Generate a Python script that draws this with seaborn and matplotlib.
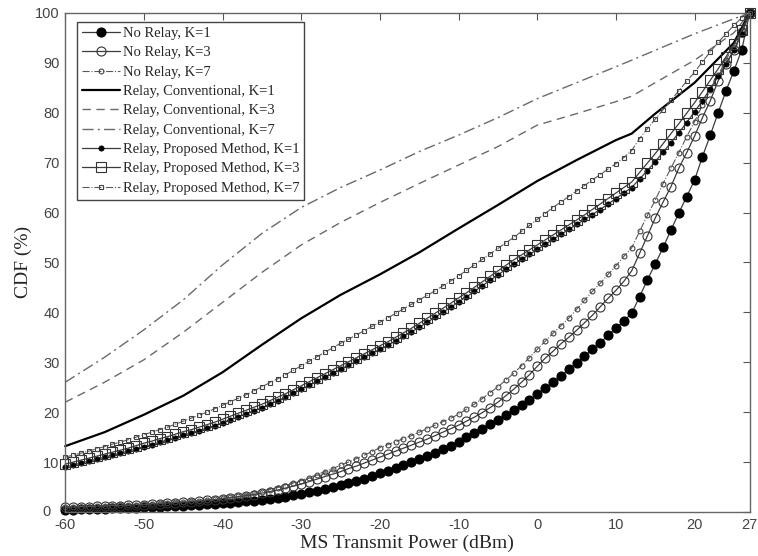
import numpy as np
import pandas as pd
import matplotlib
matplotlib.use("Agg")
import matplotlib.pyplot as plt
import seaborn as sns

# ---------------- data ----------------
x_fine = list(range(-60, 28))  # 1 dB grid for marker series
x_coarse = [-60, -55, -50, -45, -40, -35, -30, -25, -20, -15, -10, -5, 0, 5, 10, 12, 15, 20, 25, 27]

no_relay_k1 = [0.5, 0.5, 0.6, 0.6, 0.7, 0.7, 0.8, 0.8, 0.9, 0.9, 1.0,
               1.1, 1.1, 1.2, 1.3, 1.3, 1.4, 1.5, 1.6, 1.7, 1.8,
               1.9, 2.0, 2.2, 2.3, 2.5, 2.7, 2.9, 3.1, 3.4, 3.7,
               4.0, 4.3, 4.6, 5.0, 5.4, 5.8, 6.2, 6.7, 7.2, 7.8,
               8.3, 8.8, 9.4, 10.0, 10.6, 11.2, 11.9, 12.6, 13.3, 14.1,
               15.0, 15.8, 16.7, 17.6, 18.5, 19.4, 20.4, 21.4, 22.5, 23.6,
               24.8, 26.0, 27.3, 28.6, 29.9, 31.2, 32.6, 33.9, 35.4, 36.8, 38.3, 39.8,
               43.1, 46.5, 49.7, 53.0, 56.5, 59.9, 63.2, 66.5, 71.2, 75.5, 80.0, 84.4, 88.4, 92.6, 100.0]

no_relay_k3 = [1.0, 1.0, 1.1, 1.1, 1.2, 1.2, 1.3, 1.3, 1.4, 1.5, 1.5,
               1.6, 1.7, 1.8, 1.9, 2.0, 2.1, 2.2, 2.4, 2.5, 2.7,
               2.9, 3.1, 3.3, 3.5, 3.8, 4.1, 4.4, 4.8, 5.2, 5.6,
               6.1, 6.6, 7.1, 7.6, 8.1, 8.7, 9.2, 9.8, 10.4, 11.0,
               11.6, 12.2, 12.8, 13.4, 14.0, 14.6, 15.3, 16.0, 16.7, 17.4,
               18.2, 19.0, 19.9, 20.9, 22.0, 23.3, 24.6, 26.0, 27.5, 29.2,
               30.8, 32.2, 33.7, 35.0, 36.4, 37.9, 39.4, 41.1, 42.8, 44.4, 46.2, 48.3,
               51.8, 55.3, 58.9, 62.1, 65.2, 68.9, 72.0, 75.3, 79.0, 82.4, 86.4, 89.8, 92.5, 96.2, 100.0]

no_relay_k7 = [1.0, 1.0, 1.1, 1.1, 1.2, 1.2, 1.3, 1.4, 1.4, 1.5, 1.6,
               1.7, 1.8, 1.9, 2.0, 2.1, 2.2, 2.3, 2.5, 2.6, 2.8,
               3.0, 3.2, 3.5, 3.8, 4.1, 4.5, 4.9, 5.3, 5.8, 6.3,
               6.9, 7.5, 8.1, 8.7, 9.4, 10.0, 10.7, 11.4, 12.1, 12.9,
               13.5, 14.1, 14.7, 15.3, 16.0, 16.7, 17.4, 18.1, 18.8, 19.6,
               20.6, 21.6, 22.7, 23.9, 25.1, 26.4, 27.8, 29.3, 30.9, 32.6,
               34.2, 35.8, 37.3, 38.8, 40.6, 42.4, 44.2, 45.8, 47.6, 49.3, 51.2, 52.9,
               56.2, 59.4, 62.5, 65.8, 68.9, 72.0, 75.2, 78.2, 81.5, 84.5, 87.5, 90.6, 93.5, 96.5, 100.0]

conv_k1 = [13.2, 16.0, 19.5, 23.3, 28.0, 33.5, 38.8, 43.5, 47.6, 52.0, 56.8, 61.5, 66.3, 70.5, 74.5, 75.8, 79.8, 86.0, 94.0, 100.0]
conv_k3 = [22.0, 26.0, 30.5, 36.0, 42.0, 48.0, 53.5, 58.0, 62.0, 65.8, 69.5, 73.2, 77.5, 79.8, 82.2, 83.3, 86.0, 90.5, 96.0, 100.0]
conv_k7 = [26.0, 31.0, 36.5, 42.5, 49.5, 55.8, 61.0, 65.0, 68.5, 72.2, 75.5, 79.0, 82.8, 86.0, 89.2, 90.5, 92.5, 95.8, 98.8, 100.0]

prop_k1 = [9.0, 9.4, 9.8, 10.2, 10.6, 11.0, 11.4, 11.8, 12.2, 12.6, 13.1,
           13.5, 14.0, 14.4, 14.9, 15.4, 15.8, 16.3, 16.8, 17.3, 17.9,
           18.5, 19.1, 19.7, 20.3, 20.9, 21.6, 22.3, 23.0, 23.8, 24.6,
           25.4, 26.2, 27.0, 27.8, 28.6, 29.4, 30.2, 31.0, 31.8, 32.6,
           33.4, 34.3, 35.2, 36.1, 37.0, 38.0, 39.0, 40.0, 41.0, 42.1,
           43.1, 44.2, 45.3, 46.4, 47.5, 48.6, 49.6, 50.6, 51.6, 52.6,
           53.6, 54.6, 55.6, 56.6, 57.6, 58.6, 59.6, 60.6, 61.7, 62.8, 63.9, 65.0,
           66.7, 68.4, 70.2, 72.1, 74.0, 76.0, 78.0, 80.2, 82.4, 84.8, 87.3, 89.8, 92.5, 95.8, 100.0]

prop_k3 = [9.6, 10.0, 10.4, 10.8, 11.2, 11.6, 12.0, 12.4, 12.8, 13.3, 13.8,
           14.2, 14.7, 15.1, 15.6, 16.1, 16.5, 17.0, 17.5, 18.0, 18.6,
           19.2, 19.8, 20.4, 21.0, 21.6, 22.3, 23.0, 23.7, 24.5, 25.3,
           26.1, 26.9, 27.7, 28.5, 29.3, 30.1, 30.9, 31.7, 32.5, 33.3,
           34.1, 35.0, 35.9, 36.8, 37.8, 38.8, 39.8, 40.8, 41.8, 42.9,
           43.9, 45.0, 46.1, 47.2, 48.3, 49.4, 50.5, 51.5, 52.5, 53.5,
           54.5, 55.5, 56.5, 57.5, 58.5, 59.5, 60.6, 61.7, 62.8, 63.9, 65.0, 66.1,
           68.0, 69.9, 71.8, 73.8, 75.8, 77.8, 79.9, 82.0, 84.2, 86.5, 88.8, 91.2, 93.7, 96.6, 100.0]

prop_k7 = [11.0, 11.4, 11.8, 12.2, 12.7, 13.1, 13.6, 14.0, 14.5, 15.0, 15.5,
           16.0, 16.5, 17.0, 17.6, 18.2, 18.8, 19.4, 20.0, 20.7, 21.4,
           22.1, 22.8, 23.5, 24.3, 25.1, 25.9, 26.7, 27.5, 28.4, 29.3,
           30.2, 31.1, 32.0, 32.9, 33.8, 34.6, 35.5, 36.3, 37.2, 38.0,
           38.9, 39.8, 40.7, 41.6, 42.5, 43.4, 44.3, 45.3, 46.3, 47.3,
           48.4, 49.5, 50.6, 51.7, 52.8, 53.9, 55.0, 56.2, 57.4, 58.6,
           59.8, 61.0, 62.1, 63.2, 64.3, 65.4, 66.5, 67.6, 68.7, 69.8, 71.0, 72.4,
           74.8, 76.8, 78.7, 80.6, 82.5, 84.4, 86.3, 88.1, 90.2, 92.2, 94.1, 95.8, 97.5, 99.0, 100.0]

labels = ["No Relay, K=1", "No Relay, K=3", "No Relay, K=7",
          "Relay, Conventional, K=1", "Relay, Conventional, K=3", "Relay, Conventional, K=7",
          "Relay, Proposed Method, K=1", "Relay, Proposed Method, K=3", "Relay, Proposed Method, K=7"]

xticks = [-60, -50, -40, -30, -20, -10, 0, 10, 20, 27]
xtick_labels = ["-60", "-50", "-40", "-30", "-20", "-10", "0", "10", "20", "27"]
yticks = [0, 10, 20, 30, 40, 50, 60, 70, 80, 90, 100]
ytick_labels = ["", "10", "20", "30", "40", "50", "60", "70", "80", "90", "100"]

# ---------------- plot ----------------
sns.set_style("white")
plt.rcParams['font.family'] = ['Liberation Serif', 'DejaVu Serif']

fig = plt.figure(figsize=(7.58, 5.56), dpi=100)
ax = fig.add_axes([0.086, 0.079, 0.903, 0.898])

LC = "#3c3c3c"
GC = "#5a5a5a"
series = [
    (x_fine, no_relay_k1, dict(color=LC, lw=0.9, linestyle='-', marker='o', ms=6.5, mfc='black', mec='black', mew=0.8)),
    (x_fine, no_relay_k3, dict(color=LC, lw=0.9, linestyle='-', marker='o', ms=6.5, mfc='none', mec='#333333', mew=0.8)),
    (x_fine, no_relay_k7, dict(color=GC, lw=0.8, linestyle='-.', marker='o', ms=3.5, mfc='none', mec='#444444', mew=0.8)),
    (x_coarse, conv_k1, dict(color='black', lw=1.6, linestyle='-', marker='')),
    (x_coarse, conv_k3, dict(color='#6a6a6a', lw=1.0, linestyle=(0, (6, 4)), marker='')),
    (x_coarse, conv_k7, dict(color='#6a6a6a', lw=1.0, linestyle=(0, (8, 3, 1.5, 3)), marker='')),
    (x_fine, prop_k1, dict(color=LC, lw=0.9, linestyle='-', marker='o', ms=3.8, mfc='black', mec='black', mew=0.5)),
    (x_fine, prop_k3, dict(color=LC, lw=0.9, linestyle='-', marker='s', ms=6.5, mfc='none', mec='#333333', mew=0.8)),
    (x_fine, prop_k7, dict(color=GC, lw=0.8, linestyle='-.', marker='s', ms=3.5, mfc='none', mec='#444444', mew=0.8)),
]

for (xs, ys, st), lab in zip(series, labels):
    df = pd.DataFrame({"x": xs, "y": ys})
    sns.lineplot(data=df, x="x", y="y", ax=ax, label=lab, clip_on=False,
                 estimator=None, sort=False, legend=False, **st)

ax.set_xlim(-60, 27)
ax.set_ylim(0, 100)
ax.set_xticks(xticks)
ax.set_xticklabels(xtick_labels)
ax.set_yticks(yticks)
ax.set_yticklabels(ytick_labels)
ax.tick_params(direction='in', length=5, width=0.8, color='#555555', top=True, right=True,
               labelsize=10.5, labelcolor='#444444', pad=4)
for lab in ax.get_xticklabels() + ax.get_yticklabels():
    lab.set_family(['Liberation Sans', 'DejaVu Sans'])
# the "0" of the y axis sits a little further left, clear of "-60"
ax.text(-0.022, 0.0, "0", transform=ax.transAxes, ha='right', va='center',
        fontsize=10.5, color='#444444', family=['Liberation Sans', 'DejaVu Sans'])
for s in ax.spines.values():
    s.set_color('#666666')
    s.set_linewidth(1.0)

ax.set_xlabel("MS Transmit Power (dBm)", fontsize=14, labelpad=2)
ax.set_ylabel("CDF (%)", fontsize=14, labelpad=2)

leg = ax.legend(loc='upper left', bbox_to_anchor=(0.017, 0.982), fontsize=10.5, frameon=True,
                fancybox=False, framealpha=1, edgecolor='#444444', handlelength=2.6,
                labelspacing=0.42, borderpad=0.35, handletextpad=0.2, borderaxespad=0.0)
leg.get_frame().set_linewidth(1.0)

fig.savefig("out.png", dpi=100)
